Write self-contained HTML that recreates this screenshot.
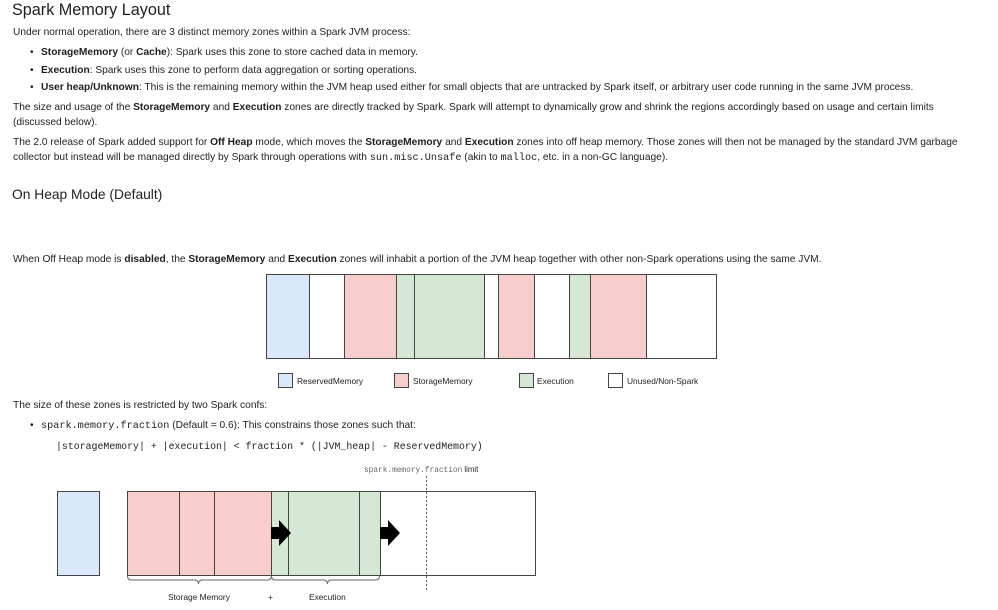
<!DOCTYPE html>
<html><head><style>
body{margin:0;width:998px;height:610px;background:#fff;position:relative;overflow:hidden;font-family:"Liberation Sans",sans-serif;color:#1f1f1f}
.t{position:absolute;white-space:nowrap;font-size:10.2px;line-height:14px}
.m{font-family:"Liberation Mono",monospace}
b{font-weight:bold}
.bul:before{content:"•";position:absolute;left:-11px}
svg{position:absolute;left:0;top:0}
</style></head><body>
<div class="t" style="left:12px;top:-1px;font-size:16.2px;line-height:22px">Spark Memory Layout</div>
<div class="t" style="left:13px;top:26px">Under normal operation, there are 3 distinct memory zones within a Spark JVM process:</div>
<div class="t bul" style="left:41px;top:46px"><b>StorageMemory</b> (or <b>Cache</b>): Spark uses this zone to store cached data in memory.</div>
<div class="t bul" style="left:41px;top:64px"><b>Execution</b>: Spark uses this zone to perform data aggregation or sorting operations.</div>
<div class="t bul" style="left:41px;top:81px"><b>User heap/Unknown</b>: This is the remaining memory within the JVM heap used either for small objects that are untracked by Spark itself, or arbitrary user code running in the same JVM process.</div>
<div class="t" style="left:13px;top:101px">The size and usage of the <b>StorageMemory</b> and <b>Execution</b> zones are directly tracked by Spark. Spark will attempt to dynamically grow and shrink the regions accordingly based on usage and certain limits</div>
<div class="t" style="left:13px;top:116px">(discussed below).</div>
<div class="t" style="left:13px;top:136px">The 2.0 release of Spark added support for <b>Off Heap</b> mode, which moves the <b>StorageMemory</b> and <b>Execution</b> zones into off heap memory. Those zones will then not be managed by the standard JVM garbage</div>
<div class="t" style="left:13px;top:151px">collector but instead will be managed directly by Spark through operations with <span class="m">sun.misc.Unsafe</span> (akin to <span class="m">malloc</span>, etc. in a non-GC language).</div>
<div class="t" style="left:12px;top:186px;font-size:13.8px;line-height:18px">On Heap Mode (Default)</div>
<div class="t" style="left:13px;top:253px">When Off Heap mode is <b>disabled</b>, the <b>StorageMemory</b> and <b>Execution</b> zones will inhabit a portion of the JVM heap together with other non-Spark operations using the same JVM.</div>
<div class="t" style="left:297px;top:374px;font-size:8.4px">ReservedMemory</div>
<div class="t" style="left:413px;top:374px;font-size:8.4px">StorageMemory</div>
<div class="t" style="left:537px;top:374px;font-size:8.4px">Execution</div>
<div class="t" style="left:627px;top:374px;font-size:8.4px">Unused/Non-Spark</div>
<div class="t" style="left:13px;top:399px">The size of these zones is restricted by two Spark confs:</div>
<div class="t bul" style="left:41px;top:419px"><span class="m">spark.memory.fraction</span> (Default = 0.6): This constrains those zones such that:</div>
<div class="t m" style="left:56px;top:440px;font-size:9.9px">|storageMemory| + |execution| &lt; fraction * (|JVM_heap| - ReservedMemory)</div>
<div class="t" style="left:364px;top:463px;font-size:7.8px"><span class="m" style="color:#666">spark.memory.fraction</span> limit</div>
<div class="t" style="left:168px;top:590px;font-size:8.4px">Storage Memory</div>
<div class="t" style="left:268px;top:590px;font-size:8.4px">+</div>
<div class="t" style="left:309px;top:590px;font-size:8.4px">Execution</div>
<svg width="998" height="610">
<g stroke="#444" stroke-width="1">
<rect x="266.5" y="274.5" width="43" height="84" fill="#dae8fc"/>
<rect x="309.5" y="274.5" width="35" height="84" fill="#fff"/>
<rect x="344.5" y="274.5" width="52" height="84" fill="#f8cecc"/>
<rect x="396.5" y="274.5" width="18" height="84" fill="#d5e8d4"/>
<rect x="414.5" y="274.5" width="70" height="84" fill="#d5e8d4"/>
<rect x="484.5" y="274.5" width="14" height="84" fill="#fff"/>
<rect x="498.5" y="274.5" width="36" height="84" fill="#f8cecc"/>
<rect x="534.5" y="274.5" width="35" height="84" fill="#fff"/>
<rect x="569.5" y="274.5" width="21" height="84" fill="#d5e8d4"/>
<rect x="590.5" y="274.5" width="56" height="84" fill="#f8cecc"/>
<rect x="646.5" y="274.5" width="70" height="84" fill="#fff"/>
<rect x="278.5" y="373.5" width="14" height="14" fill="#dae8fc"/>
<rect x="394.5" y="373.5" width="14" height="14" fill="#f8cecc"/>
<rect x="519.5" y="373.5" width="14" height="14" fill="#d5e8d4"/>
<rect x="608.5" y="373.5" width="14" height="14" fill="#fff"/>
<rect x="57.5" y="491.5" width="42" height="84" fill="#dae8fc"/>
<rect x="127.5" y="491.5" width="408" height="84" fill="#fff"/>
<rect x="127.5" y="491.5" width="52" height="84" fill="#f8cecc"/>
<rect x="179.5" y="491.5" width="35" height="84" fill="#f8cecc"/>
<rect x="214.5" y="491.5" width="57" height="84" fill="#f8cecc"/>
<rect x="271.5" y="491.5" width="17" height="84" fill="#d5e8d4"/>
<rect x="288.5" y="491.5" width="71" height="84" fill="#d5e8d4"/>
<rect x="359.5" y="491.5" width="21" height="84" fill="#d5e8d4"/>
</g>
<line x1="426.5" y1="476" x2="426.5" y2="590" stroke="#666" stroke-dasharray="2,2"/>
<g fill="none" stroke="#666">
<path d="M127.5 576 q0 4 4 4 h63 q4 0 4 4 q0 -4 4 -4 h65 q4 0 4 -4"/>
<path d="M271.5 576 q0 4 4 4 h48 q4 0 4 4 q0 -4 4 -4 h44 q4 0 4 -4"/>
</g>
<path d="M271 527 h8 v-7 l12 13 l-12 13 v-7 h-8z" fill="#000"/>
<path d="M380 527 h8 v-7 l12 13 l-12 13 v-7 h-8z" fill="#000"/>
</svg>
</body></html>
